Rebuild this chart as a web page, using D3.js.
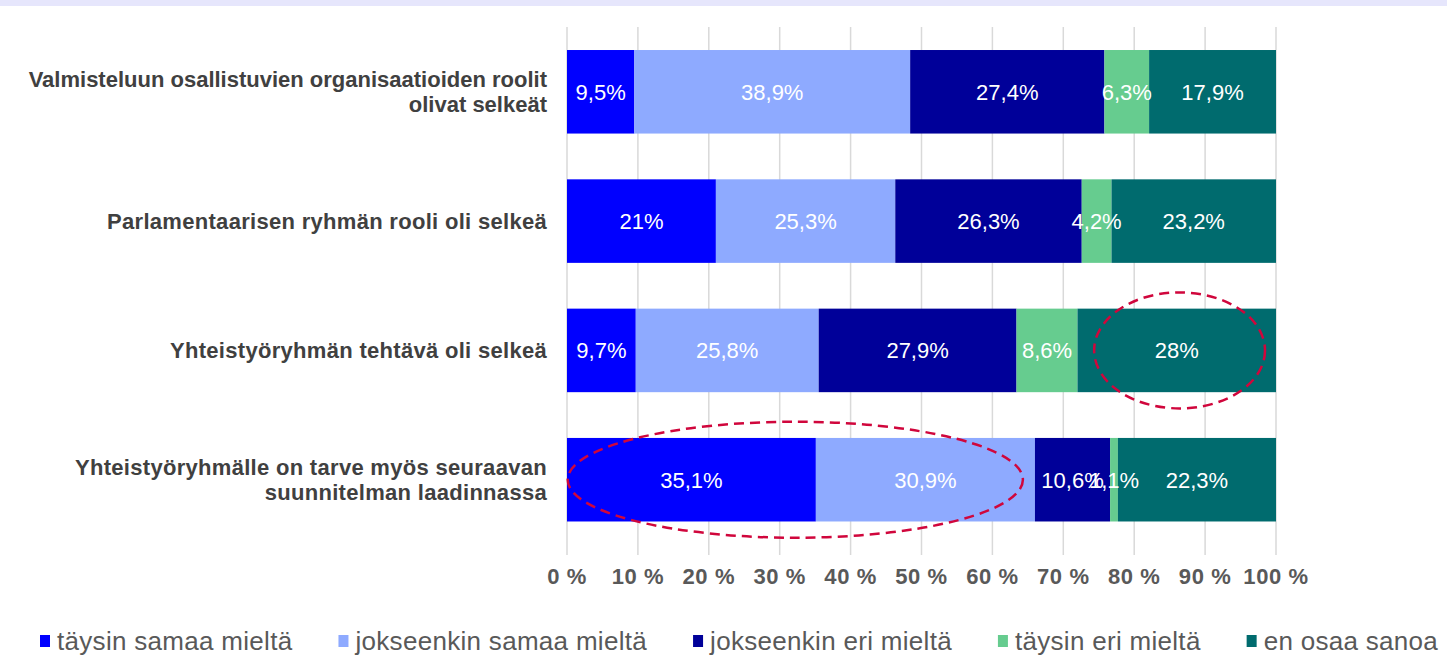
<!DOCTYPE html>
<html>
<head>
<meta charset="utf-8">
<script src="https://cdn.jsdelivr.net/npm/d3@7"></script>
<style>
  html, body { margin: 0; padding: 0; background: #fff; }
  svg { display: block; font-family: "Liberation Sans", Arial, sans-serif; }
</style>
</head>
<body>
<div id="root"></div>
<script>
// categories (top to bottom)
const categories = [
  'Valmisteluun osallistuvien organisaatioiden roolit olivat selkeät',
  'Parlamentaarisen ryhmän rooli oli selkeä',
  'Yhteistyöryhmän tehtävä oli selkeä',
  'Yhteistyöryhmälle on tarve myös seuraavan suunnitelman laadinnassa'
];
// wrapped label lines
const categoryLines = [
  ['Valmisteluun osallistuvien organisaatioiden roolit', 'olivat selkeät'],
  ['Parlamentaarisen ryhmän rooli oli selkeä'],
  ['Yhteistyöryhmän tehtävä oli selkeä'],
  ['Yhteistyöryhmälle on tarve myös seuraavan', 'suunnitelman laadinnassa']
];
const seriesNames = ['täysin samaa mieltä', 'jokseenkin samaa mieltä', 'jokseenkin eri mieltä', 'täysin eri mieltä', 'en osaa sanoa'];
const seriesColors = ['#0000ff', '#8eaaff', '#000099', '#66cc8f', '#006b6e'];

const taysinSamaa = [9.5, 21, 9.7, 35.1];
const jokseenkinSamaa = [38.9, 25.3, 25.8, 30.9];
const jokseenkinEri = [27.4, 26.3, 27.9, 10.6];
const taysinEri = [6.3, 4.2, 8.6, 1.1];
const enOsaa = [17.9, 23.2, 28, 22.3];
// labels as shown on the bars
const barLabels = [
  ['9,5%', '38,9%', '27,4%', '6,3%', '17,9%'],
  ['21%', '25,3%', '26,3%', '4,2%', '23,2%'],
  ['9,7%', '25,8%', '27,9%', '8,6%', '28%'],
  ['35,1%', '30,9%', '10,6%', '1,1%', '22,3%']
];
const ticks = [0, 10, 20, 30, 40, 50, 60, 70, 80, 90, 100];
// highlighted areas: [row, centre %, half-width %]
const highlights = [[2, 86.4, 12.05], [3, 32.2, 32.1]];

const width = 1447, height = 656;
const svg = d3.select('#root').append('svg').attr('width', width).attr('height', height);

svg.append('rect').attr('x', 0).attr('y', 0).attr('width', width).attr('height', 6).attr('fill', '#e6e6fc');

const x = d3.scaleLinear().domain([0, 100]).range([567, 1276]);
const y = d3.scaleBand().domain(categories).range([27, 544.5]).paddingInner(0.354).paddingOuter(0.178);

// gridlines
svg.append('g').selectAll('line').data(ticks).join('line')
  .attr('x1', d => x(d)).attr('x2', d => x(d))
  .attr('y1', 27).attr('y2', 555)
  .attr('stroke', '#d9d9d9').attr('stroke-width', 1.5);

// stack data
const table = categories.map((c, i) => ({
  cat: c, i,
  s0: taysinSamaa[i], s1: jokseenkinSamaa[i], s2: jokseenkinEri[i], s3: taysinEri[i], s4: enOsaa[i]
}));
const stack = d3.stack().keys(['s0', 's1', 's2', 's3', 's4'])(table);

const layers = svg.append('g').selectAll('g').data(stack).join('g')
  .attr('fill', (d, i) => seriesColors[i]);
layers.selectAll('rect').data(d => d).join('rect')
  .attr('x', d => x(d[0])).attr('width', d => x(d[1]) - x(d[0]))
  .attr('y', d => y(d.data.cat)).attr('height', y.bandwidth());

// value labels
const labelG = svg.append('g');
stack.forEach((layer, k) => {
  layer.forEach((d, i) => {
    labelG.append('text')
      .attr('x', (x(d[0]) + x(d[1])) / 2)
      .attr('y', y(d.data.cat) + y.bandwidth() / 2)
      .attr('dy', '0.36em')
      .attr('text-anchor', 'middle')
      .attr('fill', '#fff')
      .attr('font-size', 22)
      .text(barLabels[i][k]);
  });
});

// category labels
categories.forEach((c, i) => {
  const lines = categoryLines[i];
  const cy = y(c) + y.bandwidth() / 2;
  const lh = 25;
  lines.forEach((ln, j) => {
    svg.append('text')
      .attr('x', 547)
      .attr('y', cy + (j - (lines.length - 1) / 2) * lh)
      .attr('dy', '0.36em')
      .attr('text-anchor', 'end')
      .attr('font-weight', 'bold')
      .attr('font-size', 22)
      .attr('letter-spacing', i === 0 ? 0 : 0.3)
      .attr('fill', '#404040')
      .text(ln);
  });
});

// x axis labels
svg.append('g').selectAll('text').data(ticks).join('text')
  .attr('x', d => x(d)).attr('y', 576).attr('dy', '0.36em')
  .attr('text-anchor', 'middle')
  .attr('font-weight', 'bold').attr('font-size', 22).attr('letter-spacing', 0.6)
  .attr('fill', '#595959')
  .text(d => d + ' %');

// dashed highlight ellipses
svg.append('g').selectAll('ellipse').data(highlights).join('ellipse')
  .attr('cx', d => x(d[1]))
  .attr('cy', d => y(categories[d[0]]) + y.bandwidth() / 2)
  .attr('rx', d => x(d[2]) - x(0))
  .attr('ry', 58)
  .attr('fill', 'none').attr('stroke', '#d0063c')
  .attr('stroke-width', 2.5).attr('stroke-dasharray', '10 6');

// legend
const legend = svg.append('g');
let lx = 40;
seriesNames.forEach((n, i) => {
  legend.append('rect').attr('x', lx).attr('y', 635).attr('width', 10).attr('height', 12)
    .attr('fill', seriesColors[i]);
  const t = legend.append('text').attr('x', lx + 17).attr('y', 641).attr('dy', '0.36em')
    .attr('font-size', 26).attr('letter-spacing', 0.3).attr('fill', '#595959').text(n);
  lx += 17 + t.node().getComputedTextLength() + 46;
});
</script>
</body>
</html>
